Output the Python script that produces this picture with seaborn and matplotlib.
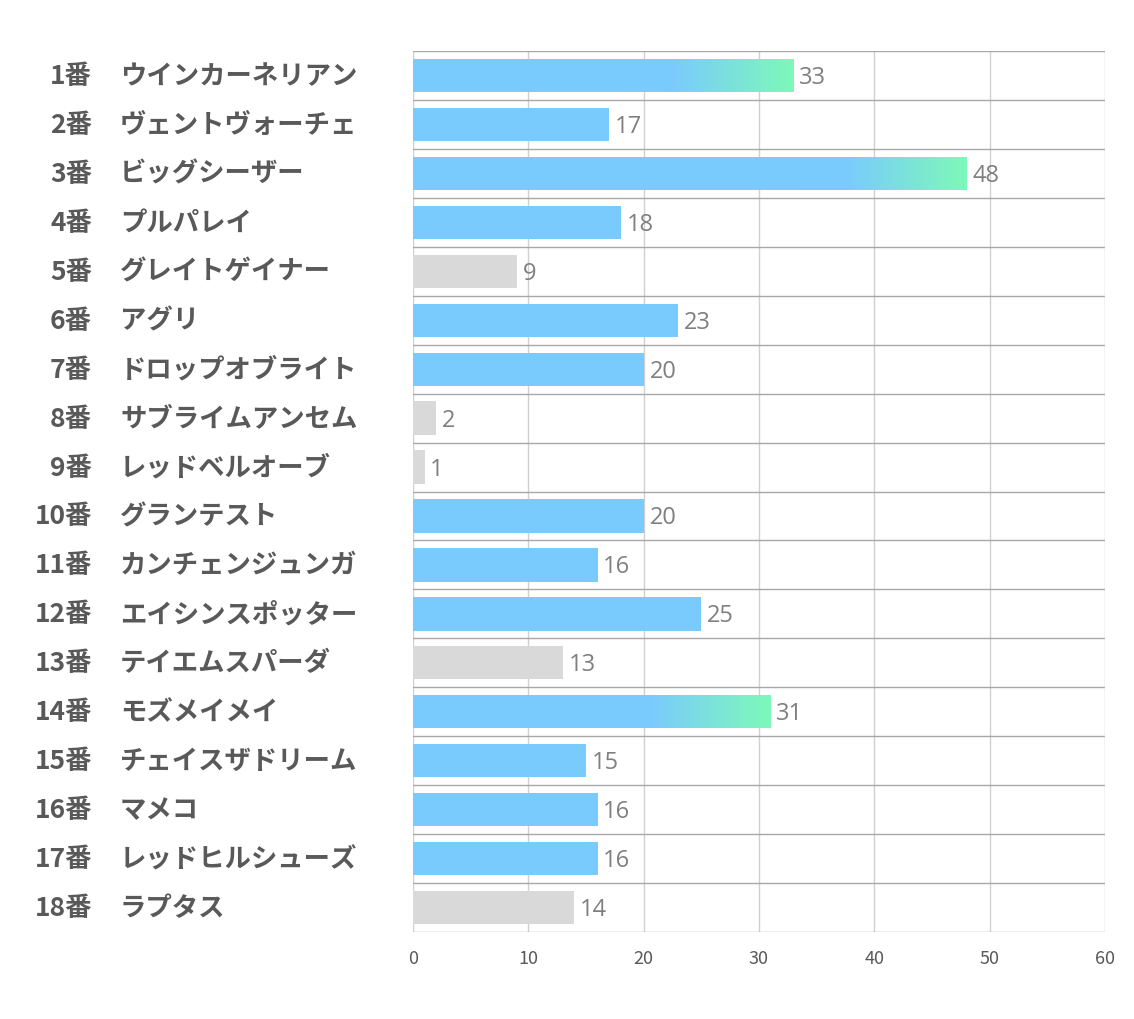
import numpy as np
import pandas as pd
import matplotlib
matplotlib.use("Agg")
import matplotlib.pyplot as plt
from matplotlib.colors import LinearSegmentedColormap
import seaborn as sns

# data
numbers = [f"{i}番" for i in range(1, 19)]
names = [
    "ウインカーネリアン", "ヴェントヴォーチェ", "ビッグシーザー", "プルパレイ",
    "グレイトゲイナー", "アグリ", "ドロップオブライト", "サブライムアンセム",
    "レッドベルオーブ", "グランテスト", "カンチェンジュンガ", "エイシンスポッター",
    "テイエムスパーダ", "モズメイメイ", "チェイスザドリーム", "マメコ",
    "レッドヒルシューズ", "ラプタス",
]
values = [33, 17, 48, 18, 9, 23, 20, 2, 1, 20, 16, 25, 13, 31, 15, 16, 16, 14]
greyed = [5, 8, 9, 13, 18]
x_ticks = [0, 10, 20, 30, 40, 50, 60]

BLUE = "#7ACBFD"
GREEN = "#7DF9B9"
GREY = "#D9D9D9"

sns.set_theme(style="white")
plt.rcParams["font.family"] = ["Noto Sans CJK JP", "DejaVu Sans"]

df = pd.DataFrame({"label": names, "value": values})
colors = [GREY if i + 1 in greyed else BLUE for i in range(len(values))]

fig = plt.figure(figsize=(11.34, 10.2), dpi=100)
ax = fig.add_axes([0.3642, 0.0853, 0.6102, 0.8637])

sns.barplot(data=df, x="value", y="label", hue="label", palette=colors,
            legend=False, width=0.68, ax=ax, saturation=1, linewidth=0)

# gradient tail on the big bars
cmap = LinearSegmentedColormap.from_list(
    "bg", [(0, BLUE), (0.3, BLUE), (1, GREEN)])
grad = np.linspace(0, 1, 256).reshape(1, -1)
for i, patch in enumerate(ax.patches):
    v = values[i]
    if v >= 30:
        y0 = patch.get_y()
        h = patch.get_height()
        start = v - 15
        im = ax.imshow(grad, cmap=cmap, aspect="auto", interpolation="bilinear",
                       extent=[start, v, y0 + h, y0], zorder=patch.get_zorder() + 0.1)
        im.set_clip_path(patch)

ax.set_xlim(0, 60)
ax.set_ylim(17.5, -0.5)
ax.set_xticks(x_ticks)
ax.set_xticklabels([str(t) for t in x_ticks], fontsize=13, color="#595959")
ax.tick_params(axis="x", length=0, pad=12)
ax.set_yticks([])
ax.set_xlabel("")
ax.set_ylabel("")
for s in ax.spines.values():
    s.set_visible(False)

# grid
for t in x_ticks:
    ax.axvline(t, color="#D0D0D0", lw=1, zorder=0)
for k in range(len(values) + 1):
    ax.axhline(k - 0.5, color="#A8A8A8", lw=1, zorder=0)

# value labels
for i, v in enumerate(values):
    ax.text(v + 0.5, i + 0.03, str(v), va="center", ha="left", fontsize=17,
            color="#7F7F7F", family=["Open Sans", "DejaVu Sans"])

# row labels
for i, (n, name) in enumerate(zip(numbers, names)):
    y = ax.transData.transform((0, i))[1]
    yf = fig.transFigure.inverted().transform((0, y))[1]
    fig.text(92 / 1134, yf, n, ha="right", va="center", fontsize=19,
             fontweight="bold", color="#595959")
    fig.text(120 / 1134, yf, name, ha="left", va="center", fontsize=19,
             fontweight="bold", color="#595959")

fig.savefig("out.png", dpi=100)
